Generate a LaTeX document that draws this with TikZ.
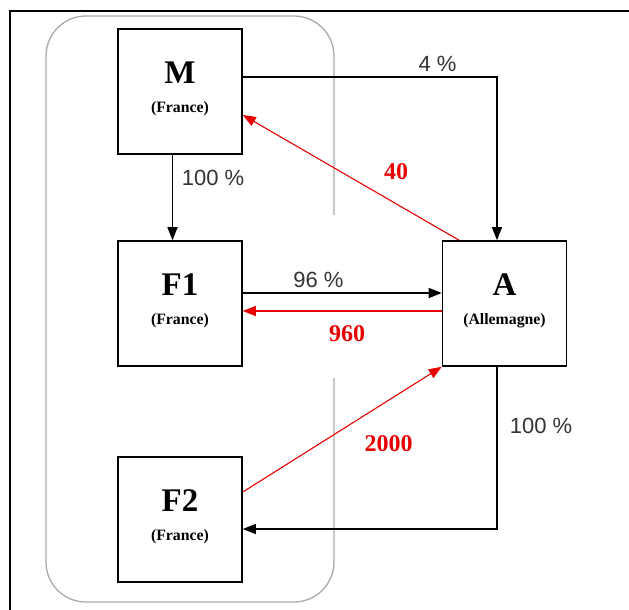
\documentclass[tikz,border=0pt]{standalone}
\usepackage{fontspec}
\setmainfont{Liberation Serif}
\newfontfamily\labsans{Liberation Sans}
\usetikzlibrary{arrows.meta}
\definecolor{framegray}{HTML}{AAAAAA}
\definecolor{pcgray}{HTML}{333333}
\definecolor{flowred}{HTML}{E60000}
\tikzset{
  box/.style={draw=black, line width=1.6pt, minimum width=124pt, minimum height=125pt, inner sep=0pt, fill=white},
  title/.style={inner sep=0pt, font=\fontsize{33}{36}\selectfont\bfseries},
  subtitle/.style={inner sep=0pt, font=\fontsize{15.8}{18}\selectfont\bfseries},
  pct/.style={inner sep=0pt, text=pcgray, font=\labsans\fontsize{22}{24}\selectfont},
  amt/.style={inner sep=0pt, text=flowred, font=\fontsize{24}{26}\selectfont\bfseries},
  blk/.style={draw=black, line width=1.5pt, -{Triangle[length=13pt,width=10pt]}},
  redl/.style={draw=flowred, line width=1.1pt, -{Triangle[length=13pt,width=10pt]}},
}
\begin{document}
\begin{tikzpicture}[x=1pt,y=-1pt]
\useasboundingbox (0,0) rectangle (629,610);
% outer frame (top and left only)
\draw[line width=1.6pt, black] (629,11) -- (10,11) -- (10,610);
% grey rounded group with gap on the right side
\draw[framegray, line width=1.3pt, rounded corners=40pt]
  (334,215) -- (334,16) -- (46,16) -- (46,602) -- (334,602) -- (334,378);
% boxes
\node[box] (M)  at (180,91.5) {};
\node[box] (F1) at (180,303.5) {};
\node[box] (F2) at (180,519.5) {};
\node[box] (A)  at (504.5,303.5) {};
% box texts
\node[title] (Mt) at ([yshift=18.5pt]M.center) {M};
\node[subtitle] (Ms) at ([yshift=-17.5pt]M.center) {(France)};
\node[title] (F1t) at ([yshift=18.5pt]F1.center) {F1};
\node[subtitle] (F1s) at ([yshift=-17.5pt]F1.center) {(France)};
\node[title] (F2t) at ([yshift=18.5pt]F2.center) {F2};
\node[subtitle] (F2s) at ([yshift=-17.5pt]F2.center) {(France)};
\node[title] (At) at ([yshift=18.5pt]A.center) {A};
\node[subtitle] (As) at ([yshift=-17.5pt]A.center) {(Allemagne)};
% connectors
\draw[blk] ([yshift=14.5pt]M.east) -| ([xshift=-7.5pt]A.north);
\draw[blk] ([xshift=-7.5pt]M.south) -- ([xshift=-7.5pt]F1.north);
\draw[blk] ([yshift=10.5pt]F1.east) -- ([yshift=10.5pt]A.west);
\draw[redl] ([yshift=-7.5pt]A.west) -- ([yshift=-7.5pt]F1.east);
\draw[redl] ([xshift=-45.5pt]A.north) -- ([yshift=-23.5pt]M.east);
\draw[redl] ([yshift=27.5pt]F2.east) -- (A.south west);
\draw[blk] ([xshift=-7.5pt]A.south) |- ([yshift=-9.5pt]F2.east);
% labels
\node[pct] (p4) at (437.5,63.5) {4 \%};
\node[pct] (p100a) at (213,177.5) {100 \%};
\node[pct] (p96) at (318.5,279.5) {96 \%};
\node[pct] (p100b) at (541,426) {100 \%};
\node[amt] (a40) at (396,171.5) {40};
\node[amt] (a960) at (347,333.5) {960};
\node[amt] (a2000) at (388.5,443.5) {2000};
\end{tikzpicture}
\end{document}
